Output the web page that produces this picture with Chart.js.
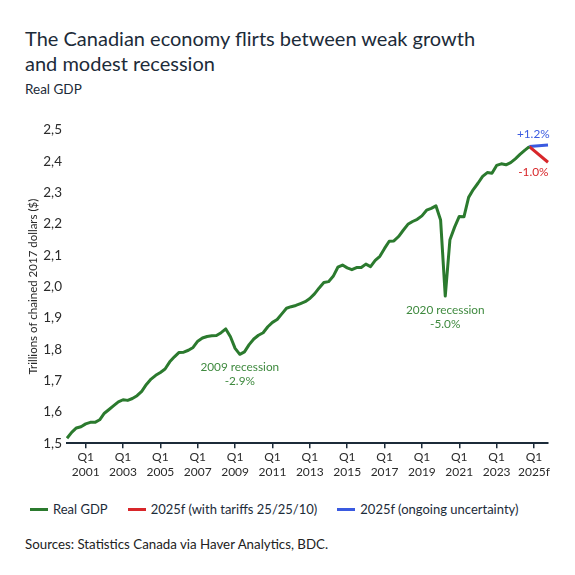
<!DOCTYPE html>
<html>
<head>
<meta charset="utf-8">
<script src="https://cdn.jsdelivr.net/npm/chart.js@4.4.1/dist/chart.umd.min.js"></script>
<style>
  body { margin: 0; background: #fff; font-family: Lato, "Noto Sans", sans-serif; color: #1c2b39; }
  #page { position: relative; width: 575px; height: 575px; overflow: hidden; }
  #title { position: absolute; left: 25px; top: 26px; font-size: 20px; line-height: 25px; }
  #sub { position: absolute; left: 25px; top: 81px; font-size: 13.5px; }
  #box { position: absolute; left: 0; top: 100px; width: 575px; height: 400px; }
  #legend { position: absolute; left: 30px; top: 501px; display: flex; align-items: center; font-size: 13px; }
  #legend .item { display: flex; align-items: center; margin-right: 20px; }
  #legend .swatch { width: 18px; height: 3px; margin-right: 5px; }
  #source { position: absolute; left: 25px; top: 536px; font-size: 13.3px; color: #222; }
</style>
</head>
<body>
<div id="page">
  <div id="title">The Canadian economy flirts between weak growth<br>and modest recession</div>
  <div id="sub">Real GDP</div>
  <div id="box"><canvas id="gdpChart"></canvas></div>
  <div id="legend"></div>
  <div id="source">Sources: Statistics Canada via Haver Analytics, BDC.</div>
</div>
<script>
// Categories: quarters 2000Q1 .. 2025Q4
const firstYear = 2000;
const lastYear = 2025;
const quarters = ['Q1', 'Q2', 'Q3', 'Q4'];
const labels = [];
for (let y = firstYear; y <= lastYear; y++) {
    quarters.forEach(q => labels.push(y + q));
}

// Real GDP, trillions of chained 2017 dollars (2000Q1 .. 2024Q4)
const realGdp = [
    1.516, 1.535, 1.549, 1.553, 1.562, 1.567, 1.567, 1.575, // 2000-2001
    1.596, 1.608, 1.620, 1.632, 1.639, 1.637, 1.643, 1.652, // 2002-2003
    1.666, 1.688, 1.705, 1.717, 1.726, 1.737, 1.760, 1.776, // 2004-2005
    1.790, 1.791, 1.797, 1.806, 1.826, 1.836, 1.841, 1.843, // 2006-2007
    1.844, 1.853, 1.865, 1.840, 1.803, 1.784, 1.792, 1.815, // 2008-2009
    1.833, 1.845, 1.853, 1.872, 1.886, 1.895, 1.913, 1.931, // 2010-2011
    1.936, 1.940, 1.946, 1.952, 1.962, 1.977, 1.996, 2.013, // 2012-2013
    2.016, 2.033, 2.062, 2.069, 2.060, 2.054, 2.061, 2.061, // 2014-2015
    2.072, 2.064, 2.084, 2.097, 2.122, 2.145, 2.146, 2.160, // 2016-2017
    2.180, 2.199, 2.208, 2.215, 2.226, 2.244, 2.250, 2.258, // 2018-2019
    2.213, 1.970, 2.150, 2.190, 2.224, 2.223, 2.285, 2.310, // 2020-2021
    2.330, 2.352, 2.364, 2.362, 2.387, 2.392, 2.389, 2.396, // 2022-2023
    2.408, 2.422, 2.435, 2.447                              // 2024
];

// 2025 forecasts: from 2024Q4 to 2025Q4
const forecastFrom = '2024Q4';
const forecastTo = '2025Q4';
const tariffEnd = 2.397;
const uncertaintyEnd = 2.452;

const yTicks = [1.5, 1.6, 1.7, 1.8, 1.9, 2.0, 2.1, 2.2, 2.3, 2.4, 2.5];
const tickQuarters = ['2001Q1', '2003Q1', '2005Q1', '2007Q1', '2009Q1', '2011Q1', '2013Q1',
    '2015Q1', '2017Q1', '2019Q1', '2021Q1', '2023Q1', '2025Q1'];
const tickYears = ['2001', '2003', '2005', '2007', '2009', '2011', '2013',
    '2015', '2017', '2019', '2021', '2023', '2025f'];

const FONT = 'Lato, "Noto Sans", sans-serif';
const GREEN = '#2b7a2e';
const RED = '#d8262a';
const BLUE = '#3a5ae0';
const INK = '#1c2b39';

function forecastSeries(endValue) {
    return labels.map(l => {
        if (l === forecastFrom) return realGdp[realGdp.length - 1];
        if (l === forecastTo) return endValue;
        return null;
    });
}

// Text notes placed at a quarter / GDP level
const notes = [
    { at: '2009Q2', value: 1.744, lines: ['2009 recession', '-2.9%'], color: '#3f8a3f' },
    { at: '2020Q2', value: 1.926, lines: ['2020 recession', '-5.0%'], color: '#3f8a3f' },
    { at: '2024Q4', value: 2.487, lines: ['+1.2%'], color: BLUE, dx: 4 },
    { at: '2024Q4', value: 2.364, lines: ['-1.0%'], color: RED, dx: 4 }
];

const notesPlugin = {
    id: 'notes',
    afterDatasetsDraw(chart) {
        const { ctx, scales } = chart;
        ctx.save();
        ctx.font = '11.8px ' + FONT;
        ctx.textAlign = 'center';
        ctx.textBaseline = 'middle';
        notes.forEach(n => {
            const x = scales.x.getPixelForValue(labels.indexOf(n.at)) + (n.dx || 0);
            const y = scales.y.getPixelForValue(n.value);
            ctx.fillStyle = n.color;
            n.lines.forEach((t, i) => ctx.fillText(t, x, y + i * 14));
        });
        ctx.restore();
    }
};

const chart = new Chart(document.getElementById('gdpChart'), {
    type: 'line',
    data: {
        labels: labels,
        datasets: [
            { label: 'Real GDP', data: realGdp, borderColor: GREEN, backgroundColor: GREEN, borderWidth: 3 },
            { label: '2025f (with tariffs 25/25/10)', data: forecastSeries(tariffEnd), borderColor: RED, backgroundColor: RED, borderWidth: 3, spanGaps: true },
            { label: '2025f (ongoing uncertainty)', data: forecastSeries(uncertaintyEnd), borderColor: BLUE, backgroundColor: BLUE, borderWidth: 3, spanGaps: true }
        ]
    },
    options: {
        responsive: true,
        maintainAspectRatio: false,
        animation: false,
        elements: { point: { radius: 0, hoverRadius: 0 }, line: { tension: 0, borderJoinStyle: 'round' } },
        layout: { padding: { top: 30, right: 27, left: 25, bottom: 0 } },
        plugins: {
            tooltip: { enabled: false },
            legend: { display: false }
        },
        scales: {
            x: {
                type: 'category',
                afterFit(scale) { scale.height = 56.7; },
                afterBuildTicks(scale) {
                    scale.ticks = scale.ticks.filter(t => tickQuarters.includes(labels[t.value]));
                },
                ticks: {
                    autoSkip: false,
                    maxRotation: 0,
                    color: '#2b2b2b',
                    padding: 2,
                    font: { family: FONT, size: 12, lineHeight: 1.2 },
                    callback(value) {
                        const i = tickQuarters.indexOf(labels[value]);
                        return i < 0 ? null : ['Q1', tickYears[i]];
                    }
                },
                grid: { drawOnChartArea: false, drawTicks: true, tickLength: 5, color: INK, lineWidth: 1.5 },
                border: { display: true, color: INK, width: 2 }
            },
            y: {
                min: 1.5,
                max: 2.5,
                afterFit(scale) { scale.width = 42; },
                afterBuildTicks(scale) { scale.ticks = yTicks.map(v => ({ value: v })); },
                title: {
                    display: true,
                    text: 'Trillions of chained 2017 dollars ($)',
                    color: '#2b2b2b',
                    padding: { top: 1, bottom: 4 },
                    font: { family: FONT, size: 11.5 }
                },
                ticks: {
                    color: '#2b2b2b',
                    padding: 5,
                    font: { family: FONT, size: 13.5 },
                    callback(value) { return value.toFixed(1).replace('.', ','); }
                },
                grid: { display: false, drawTicks: false },
                border: { display: false }
            }
        }
    },
    plugins: [notesPlugin]
});

// HTML legend built from the datasets
const legend = document.getElementById('legend');
chart.data.datasets.forEach(ds => {
    const item = document.createElement('div');
    item.className = 'item';
    const sw = document.createElement('span');
    sw.className = 'swatch';
    sw.style.background = ds.borderColor;
    const txt = document.createElement('span');
    txt.textContent = ds.label;
    item.appendChild(sw);
    item.appendChild(txt);
    legend.appendChild(item);
});
</script>
</body>
</html>
